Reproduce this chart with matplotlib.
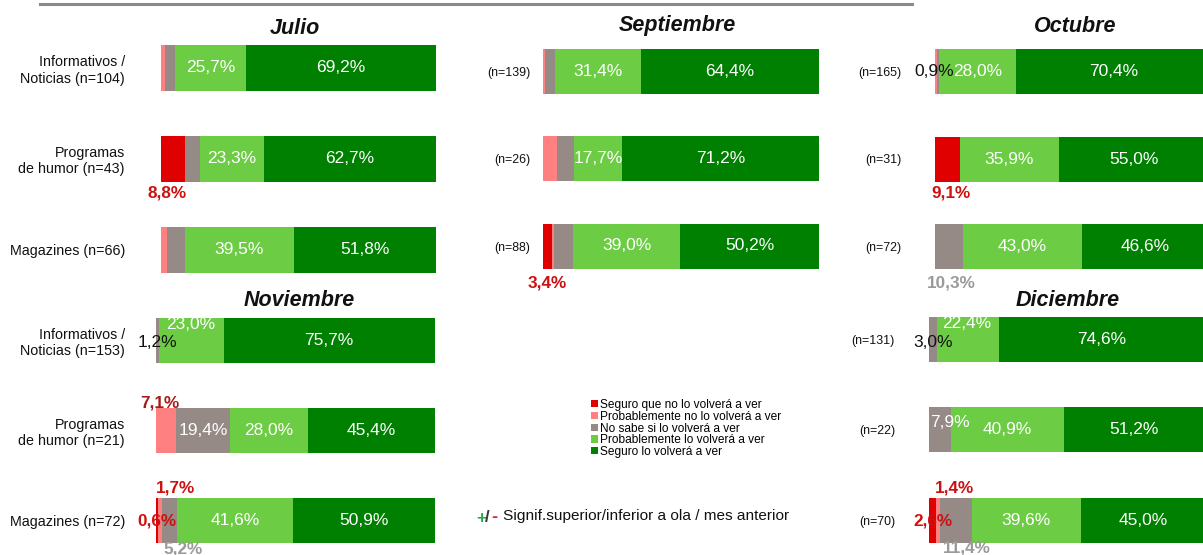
import matplotlib
matplotlib.use("Agg")
import matplotlib.pyplot as plt
from matplotlib.patches import Patch
from matplotlib.lines import Line2D
import numpy as np

plt.rcParams['font.family'] = ['Liberation Sans', 'DejaVu Sans']

# ---------------- data ----------------
series = ["Seguro que no lo volverá a ver",
          "Probablemente no lo volverá a ver",
          "No sabe si lo volverá a ver",
          "Probablemente lo volverá a ver",
          "Seguro lo volverá a ver"]
colors = ["#E00000", "#FF8080", "#968A86", "#6CCC44", "#008000"]

months = ["Julio", "Septiembre", "Octubre", "Noviembre", "Diciembre"]

# rows: Informativos / Programas de humor / Magazines ; columns follow `series`
julio = [[0.0, 1.4, 3.7, 25.7, 69.2],
         [8.8, 0.0, 5.2, 23.3, 62.7],
         [0.0, 2.2, 6.5, 39.5, 51.8]]
septiembre = [[0.0, 0.6, 3.6, 31.4, 64.4],
              [0.0, 5.1, 6.0, 17.7, 71.2],
              [3.4, 0.7, 6.7, 39.0, 50.2]]
octubre = [[0.0, 0.7, 0.9, 28.0, 70.4],
           [9.1, 0.0, 0.0, 35.9, 55.0],
           [0.0, 0.0, 10.3, 43.0, 46.6]]
noviembre = [[0.0, 0.0, 1.2, 23.0, 75.7],
             [0.0, 7.1, 19.4, 28.0, 45.4],
             [0.6, 1.7, 5.2, 41.6, 50.9]]
diciembre = [[0.0, 0.0, 3.0, 22.4, 74.6],
             [0.0, 0.0, 7.9, 40.9, 51.2],
             [2.6, 1.4, 11.4, 39.6, 45.0]]

labels_julio = ["Informativos /\nNoticias (n=104)", "Programas\nde humor (n=43)", "Magazines (n=66)"]
labels_sept = ["(n=139)", "(n=26)", "(n=88)"]
labels_oct = ["(n=165)", "(n=31)", "(n=72)"]
labels_nov = ["Informativos /\nNoticias (n=153)", "Programas\nde humor (n=21)", "Magazines (n=72)"]
labels_dic = ["(n=131)", "(n=22)", "(n=70)"]

legend_note = "Signif.superior/inferior a ola / mes anterior"

# ---------------- layout ----------------
W, H = 1203, 555
fig = plt.figure(figsize=(W / 100, H / 100), dpi=100)
fig.patch.set_facecolor("white")


def fx(px):
    return px / W


def fy(py):
    return 1 - py / H


RED, DRED, GRAY, BLACK, WHITE = "#CC1111", "#A81A1A", "#9A9A9A", "#111111", "white"

# special label placement: (row, series, color, weight, dx_px, dy_px)
panels = [
    dict(name="Julio", vals=julio, labels=labels_julio, x0=161, x1=436, c0=68, c2=249.5,
         bar=46, pad=36, lab_fs=10.3, title=(295, 28),
         specials=[(1, 0, RED, "bold", -6, 34)]),
    dict(name="Septiembre", vals=septiembre, labels=labels_sept, x0=543, x1=819, c0=71.5, c2=246,
         bar=45, pad=13, lab_fs=8.9, title=(677, 26),
         specials=[(2, 0, RED, "bold", 0, 37)]),
    dict(name="Octubre", vals=octubre, labels=labels_oct, x0=935, x1=1210, c0=71.5, c2=246.5,
         bar=45, pad=34, lab_fs=8.9, title=(1075, 27),
         specials=[(0, 2, BLACK, "normal", -4, 0.5), (1, 0, RED, "bold", 3, 34),
                   (2, 2, GRAY, "bold", 2, 36.5)]),
    dict(name="Noviembre", vals=noviembre, labels=labels_nov, x0=156, x1=435, c0=340.5, c2=520.5,
         bar=45, pad=31, lab_fs=10.3, title=(299, 300),
         specials=[(0, 2, BLACK, "normal", 0, 1.5), (0, 3, WHITE, "normal", -1, -16.5),
                   (1, 1, DRED, "bold", -6, -27.5), (1, 2, WHITE, "normal", 0, 0),
                   (2, 1, RED, "bold", 15, -32.5), (2, 0, RED, "bold", 0, 0.5),
                   (2, 2, GRAY, "bold", 13, 28.5)]),
    dict(name="Diciembre", vals=diciembre, labels=labels_dic, x0=929, x1=1205, c0=339.5, c2=520,
         bar=45, pad=34, lab_fs=8.9, title=(1068, 301),
         specials=[(0, 2, BLACK, "normal", 0, 2.5), (0, 3, WHITE, "normal", -1.5, -16.5),
                   (1, 2, WHITE, "normal", 10, -7.5), (2, 1, RED, "bold", 16, -32),
                   (2, 0, RED, "bold", 0, 1), (2, 2, GRAY, "bold", 11, 27.5)]),
]


def fmt(v):
    return f"{v:.1f}".replace(".", ",") + "%"


for p in panels:
    vals = np.array(p["vals"], dtype=float)
    sp = (p["c2"] - p["c0"]) / 2.0
    top = p["c0"] - sp / 2
    bot = p["c2"] + sp / 2
    ax = fig.add_axes([fx(p["x0"]), fy(bot), (p["x1"] - p["x0"]) / W, (bot - top) / H])
    ax.patch.set_alpha(0)
    ax.set_xlim(0, 100)
    ax.set_ylim(2.5, -0.5)
    rows = np.arange(vals.shape[0])
    cum = np.zeros(vals.shape[0])
    bh = p["bar"] / sp
    for s in range(vals.shape[1]):
        ax.barh(rows, vals[:, s], left=cum, height=bh, color=colors[s], lw=0, zorder=2)
        cum += vals[:, s]
    lefts = np.cumsum(vals, axis=1) - vals
    centers = lefts + vals / 2

    special_keys = {(r, s) for (r, s, *_rest) in p["specials"]}
    for r in rows:
        for s in (3, 4):
            if (r, s) in special_keys:
                continue
            ax.annotate(fmt(vals[r, s]), xy=(centers[r, s], r), ha="center", va="center",
                        color="white", fontsize=12.5, zorder=5)
    for (r, s, col, wt, dx, dy) in p["specials"]:
        ax.annotate(fmt(vals[r, s]), xy=(centers[r, s], r), xytext=(dx * 0.72, -dy * 0.72),
                    textcoords="offset points", ha="center", va="center", color=col,
                    fontweight=wt, fontsize=12.3 if wt == "bold" else 12.5, zorder=5,
                    annotation_clip=False)

    for sp_ in ax.spines.values():
        sp_.set_visible(False)
    ax.set_xticks([])
    ax.set_yticks(rows)
    ax.set_yticklabels(p["labels"], fontsize=p["lab_fs"], color="#111111")
    ax.tick_params(axis="y", length=0, pad=p["pad"] * 0.72)

    tx, ty = p["title"]
    fig.text(fx(tx), fy(ty), p["name"], ha="center", va="center", fontsize=15.5,
             fontweight="bold", fontstyle="italic", color="#111111")

# top decorative rule
fig.add_artist(Line2D([fx(40), fx(912)], [fy(4), fy(4)], color="#8a8a8a", lw=2.2))

# legend
handles = [Patch(facecolor=c, edgecolor="none") for c in colors]
fig.legend(handles, series, loc="upper left", bbox_to_anchor=(fx(591), fy(399)),
           frameon=False, fontsize=8.6, handlelength=0.55, handleheight=0.55,
           handletextpad=0.2, labelspacing=-0.02, borderpad=0, borderaxespad=0)

# significance note
fig.text(fx(481), fy(518), "+", ha="center", va="center", fontsize=12.5, fontweight="bold", color="#22AA44")
fig.text(fx(487.5), fy(518), "/", ha="center", va="center", fontsize=12, fontweight="bold", color="#333333")
fig.text(fx(494), fy(517), "-", ha="center", va="center", fontsize=13, fontweight="bold", color="#DD2222")
fig.text(fx(503), fy(516), legend_note, ha="left", va="center", fontsize=11.1, color="#111111")

fig.savefig("out.png", dpi=100)
